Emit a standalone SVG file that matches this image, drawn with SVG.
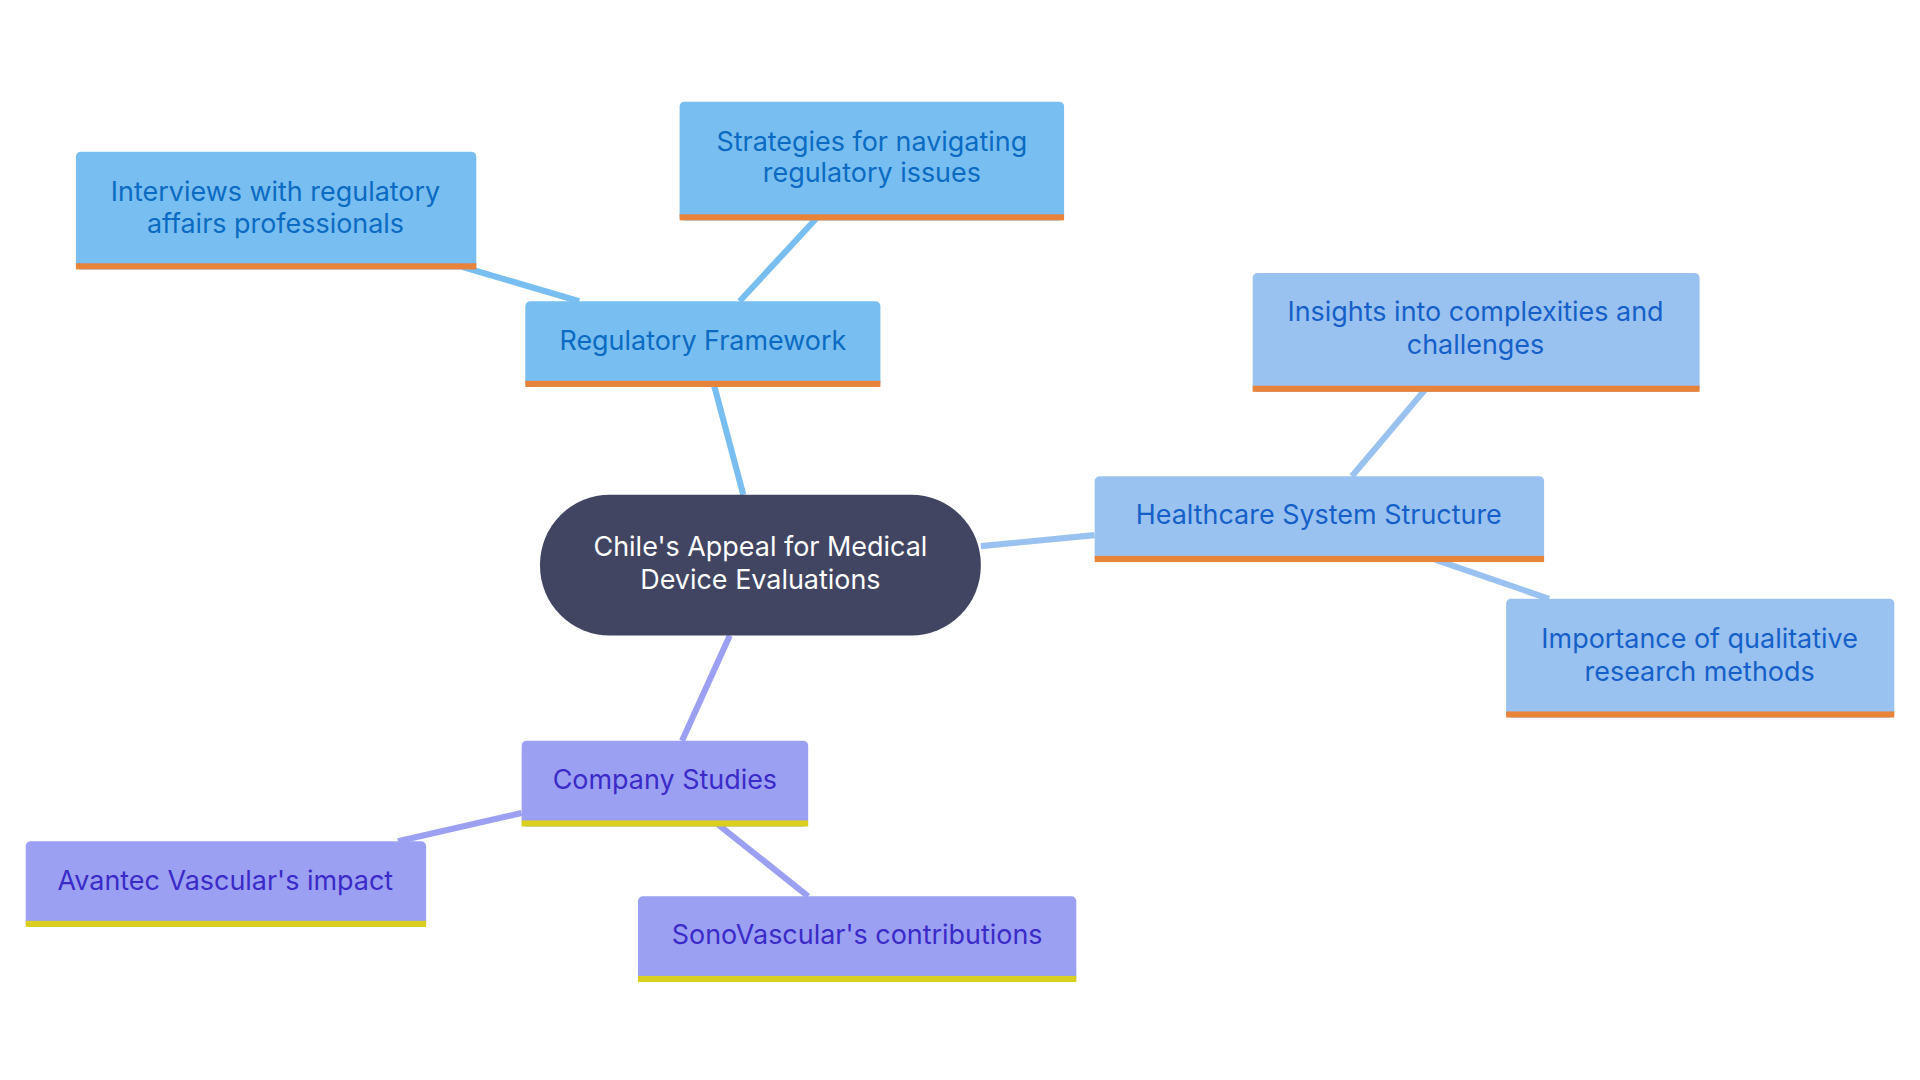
<svg xmlns="http://www.w3.org/2000/svg" width="1920" height="1080" viewBox="0 0 1920 1080">
<style>
text{font-family:Inter,"Open Sans",sans-serif;font-size:22px;text-anchor:middle}
.b1{fill:#78BEF0}.b2{fill:#9AC2F0}.b3{fill:#9CA0F2}
.t1{fill:#0B6BC2}.t2{fill:#1560C8}.t3{fill:#3A2BC8}
.o{fill:#E8833A}.y{fill:#D8CF1E}
.e1{stroke:#78BEF0}.e2{stroke:#9AC2F0}.e3{stroke:#9CA0F2}
#edges line{stroke-width:5}
</style>
<rect width="1920" height="1080" fill="#fff"/>
<g transform="scale(1.2245)">
<g id="edges">
<line class="e1" x1="607" y1="404" x2="583" y2="314"/>
<line class="e1" x1="473" y1="246" x2="378" y2="218"/>
<line class="e1" x1="604" y1="246" x2="667" y2="178"/>
<line class="e2" x1="801" y1="446" x2="894" y2="437"/>
<line class="e2" x1="1104" y1="389" x2="1164" y2="318"/>
<line class="e2" x1="1172" y1="457" x2="1265" y2="489"/>
<line class="e3" x1="596" y1="519" x2="557" y2="605"/>
<line class="e3" x1="426" y1="664" x2="325" y2="687"/>
<line class="e3" x1="586" y1="673" x2="660" y2="732"/>
</g>
<g id="center"><rect x="441" y="404" width="360" height="115" rx="57" fill="#414562"/>
<text x="621" y="454" fill="#fff">Chile's Appeal for Medical</text><text x="621" y="481" fill="#fff">Device Evaluations</text></g>
<g id="reg"><rect class="b1" x="429" y="246" width="290" height="70" rx="4"/><rect class="o" x="429" y="311" width="290" height="5"/>
<text class="t1" x="574" y="286">Regulatory Framework</text></g>
<g id="interviews"><rect class="b1" x="62" y="124" width="327" height="96" rx="4"/><rect class="o" x="62" y="215" width="327" height="5"/>
<text class="t1" x="225" y="164">Interviews with regulatory</text><text class="t1" x="225" y="190">affairs professionals</text></g>
<g id="strategies"><rect class="b1" x="555" y="83" width="314" height="97" rx="4"/><rect class="o" x="555" y="175" width="314" height="5"/>
<text class="t1" x="712" y="123">Strategies for navigating</text><text class="t1" x="712" y="149">regulatory issues</text></g>
<g id="health"><rect class="b2" x="894" y="389" width="367" height="70" rx="4"/><rect class="o" x="894" y="454" width="367" height="5"/>
<text class="t2" x="1077" y="428">Healthcare System Structure</text></g>
<g id="insights"><rect class="b2" x="1023" y="223" width="365" height="97" rx="4"/><rect class="o" x="1023" y="315" width="365" height="5"/>
<text class="t2" x="1205" y="262">Insights into complexities and</text><text class="t2" x="1205" y="289">challenges</text></g>
<g id="importance"><rect class="b2" x="1230" y="489" width="317" height="97" rx="4"/><rect class="o" x="1230" y="581" width="317" height="5"/>
<text class="t2" x="1388" y="529">Importance of qualitative</text><text class="t2" x="1388" y="556">research methods</text></g>
<g id="company"><rect class="b3" x="426" y="605" width="234" height="70" rx="4"/><rect class="y" x="426" y="670" width="234" height="5"/>
<text class="t3" x="543" y="644">Company Studies</text></g>
<g id="avantec"><rect class="b3" x="21" y="687" width="327" height="70" rx="4"/><rect class="y" x="21" y="752" width="327" height="5"/>
<text class="t3" x="184" y="727">Avantec Vascular's impact</text></g>
<g id="sono"><rect class="b3" x="521" y="732" width="358" height="70" rx="4"/><rect class="y" x="521" y="797" width="358" height="5"/>
<text class="t3" x="700" y="771">SonoVascular's contributions</text></g>
</g>
</svg>
